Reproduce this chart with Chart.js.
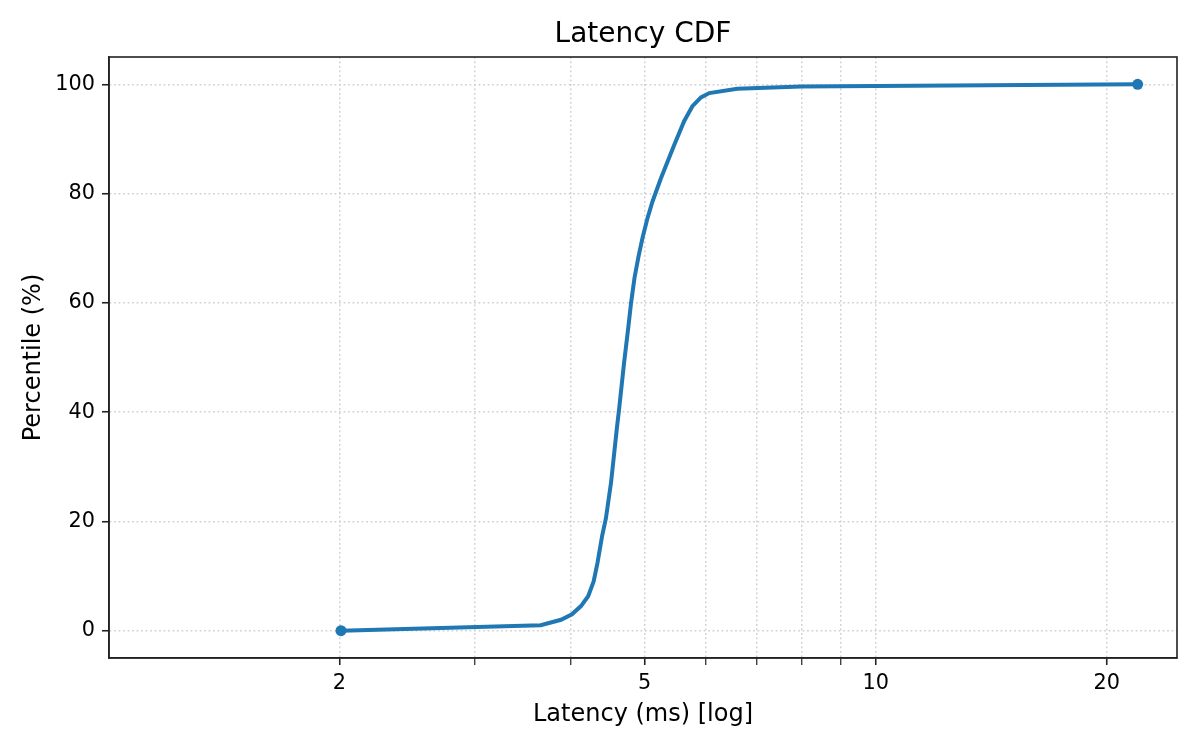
<!DOCTYPE html>
<html>
<head>
<meta charset="utf-8">
<title>Latency CDF</title>
<script src="https://cdn.jsdelivr.net/npm/chart.js@4/dist/chart.umd.min.js"></script>
<style>
    html, body { margin: 0; padding: 0; background: #fff; }
    canvas { display: block; }
</style>
</head>
<body>
<canvas id="cdfChart" width="1200" height="750"></canvas>
<script>
// Latency values (ms) and the percentile reached at each one
const latencyMs = [2.01, 3.66, 3.89, 4.02, 4.13, 4.22, 4.29, 4.34, 4.40, 4.45, 4.52, 4.60, 4.63, 4.70, 4.76, 4.80, 4.85, 4.91, 4.97, 5.04, 5.12, 5.25, 5.46, 5.63, 5.77, 5.92, 6.07, 6.60, 8.0, 21.95];
const percentile = [0, 1, 2, 3, 4.5, 6.3, 9, 12.4, 17.3, 20.5, 27.1, 37.1, 40.5, 49.0, 55.5, 60.0, 64.6, 68.6, 72.0, 75.4, 78.6, 82.8, 88.8, 93.3, 96, 97.6, 98.4, 99.2, 99.6, 100];

// Axis ticks
const xGridTicks = [2, 3, 4, 5, 6, 7, 8, 9, 10, 20];
const xLabelTicks = [2, 5, 10, 20];
const yTicks = [0, 20, 40, 60, 80, 100];

const FONT = "'DejaVu Sans', sans-serif";
const lineColor = "#1f77b4";
const gridColor = "#cfcfcf";

// white background + full box frame around the plot
const framePlugin = {
    id: "frame",
    beforeDraw(chart) {
        let ctx = chart.ctx;
        ctx.save();
        ctx.fillStyle = "#fff";
        ctx.fillRect(0, 0, chart.width, chart.height);
        ctx.restore();
    },
    afterDraw(chart) {
        let a = chart.chartArea;
        let ctx = chart.ctx;
        ctx.save();
        ctx.strokeStyle = "#222";
        ctx.lineWidth = 1.6;
        ctx.strokeRect(a.left, a.top, a.right - a.left, a.bottom - a.top);
        ctx.restore();
    }
};

let points = latencyMs.map((x, i) => ({ x: x, y: percentile[i] }));
let lastIndex = points.length - 1;

// minor x ticks (no label) are drawn thinner
let isMinor = ctx => ctx.tick && !xLabelTicks.includes(ctx.tick.value);

new Chart(document.getElementById("cdfChart"), {
    type: "line",
    data: {
        datasets: [{
            data: points,
            borderColor: lineColor,
            backgroundColor: lineColor,
            borderWidth: 4,
            tension: 0,
            pointRadius: ctx => (ctx.dataIndex === 0 || ctx.dataIndex === lastIndex) ? 5.5 : 0,
            pointHoverRadius: 0,
            pointBorderWidth: 0,
            fill: false
        }]
    },
    options: {
        responsive: false,
        animation: false,
        devicePixelRatio: 1,
        layout: { padding: { top: 0, left: 0, right: 23, bottom: 0 } },
        plugins: {
            legend: { display: false },
            tooltip: { enabled: false },
            title: {
                display: true,
                fullSize: false,
                text: "Latency CDF",
                color: "#000",
                font: { family: FONT, size: 28, weight: "normal" },
                padding: { top: 18, bottom: 5.4 }
            }
        },
        scales: {
            x: {
                type: "logarithmic",
                min: 1.002,
                max: 24.7,
                afterFit: s => { s.height = 92; },
                afterBuildTicks: s => { s.ticks = xGridTicks.map(v => ({ value: v })); },
                ticks: {
                    autoSkip: false,
                    maxRotation: 0,
                    padding: 6,
                    color: "#000",
                    font: { family: FONT, size: 20.8 },
                    callback: v => xLabelTicks.includes(v) ? String(v) : ""
                },
                grid: {
                    color: gridColor,
                    lineWidth: 1.5,
                    tickLength: 7,
                    tickColor: "#222",
                    tickWidth: ctx => isMinor(ctx) ? 1.2 : 1.6,
                    tickBorderDash: []
                },
                border: { display: true, color: "#222", width: 1.6, dash: [1.7, 2.8] },
                title: {
                    display: true,
                    text: "Latency (ms) [log]",
                    color: "#000",
                    font: { family: FONT, size: 24 },
                    padding: { top: 0, bottom: 21 }
                }
            },
            y: {
                min: -5,
                max: 105,
                afterFit: s => { s.width = 109; },
                afterBuildTicks: s => { s.ticks = yTicks.map(v => ({ value: v })); },
                ticks: {
                    padding: 7,
                    color: "#000",
                    font: { family: FONT, size: 20.8 }
                },
                grid: {
                    color: gridColor,
                    lineWidth: 1.5,
                    tickLength: 7,
                    tickColor: "#222",
                    tickWidth: 1.6,
                    tickBorderDash: []
                },
                border: { display: true, color: "#222", width: 1.6, dash: [1.7, 2.8] },
                title: {
                    display: true,
                    text: "Percentile (%)",
                    color: "#000",
                    font: { family: FONT, size: 24 },
                    padding: { top: 19, bottom: 0 }
                }
            }
        }
    },
    plugins: [framePlugin]
});
</script>
</body>
</html>
